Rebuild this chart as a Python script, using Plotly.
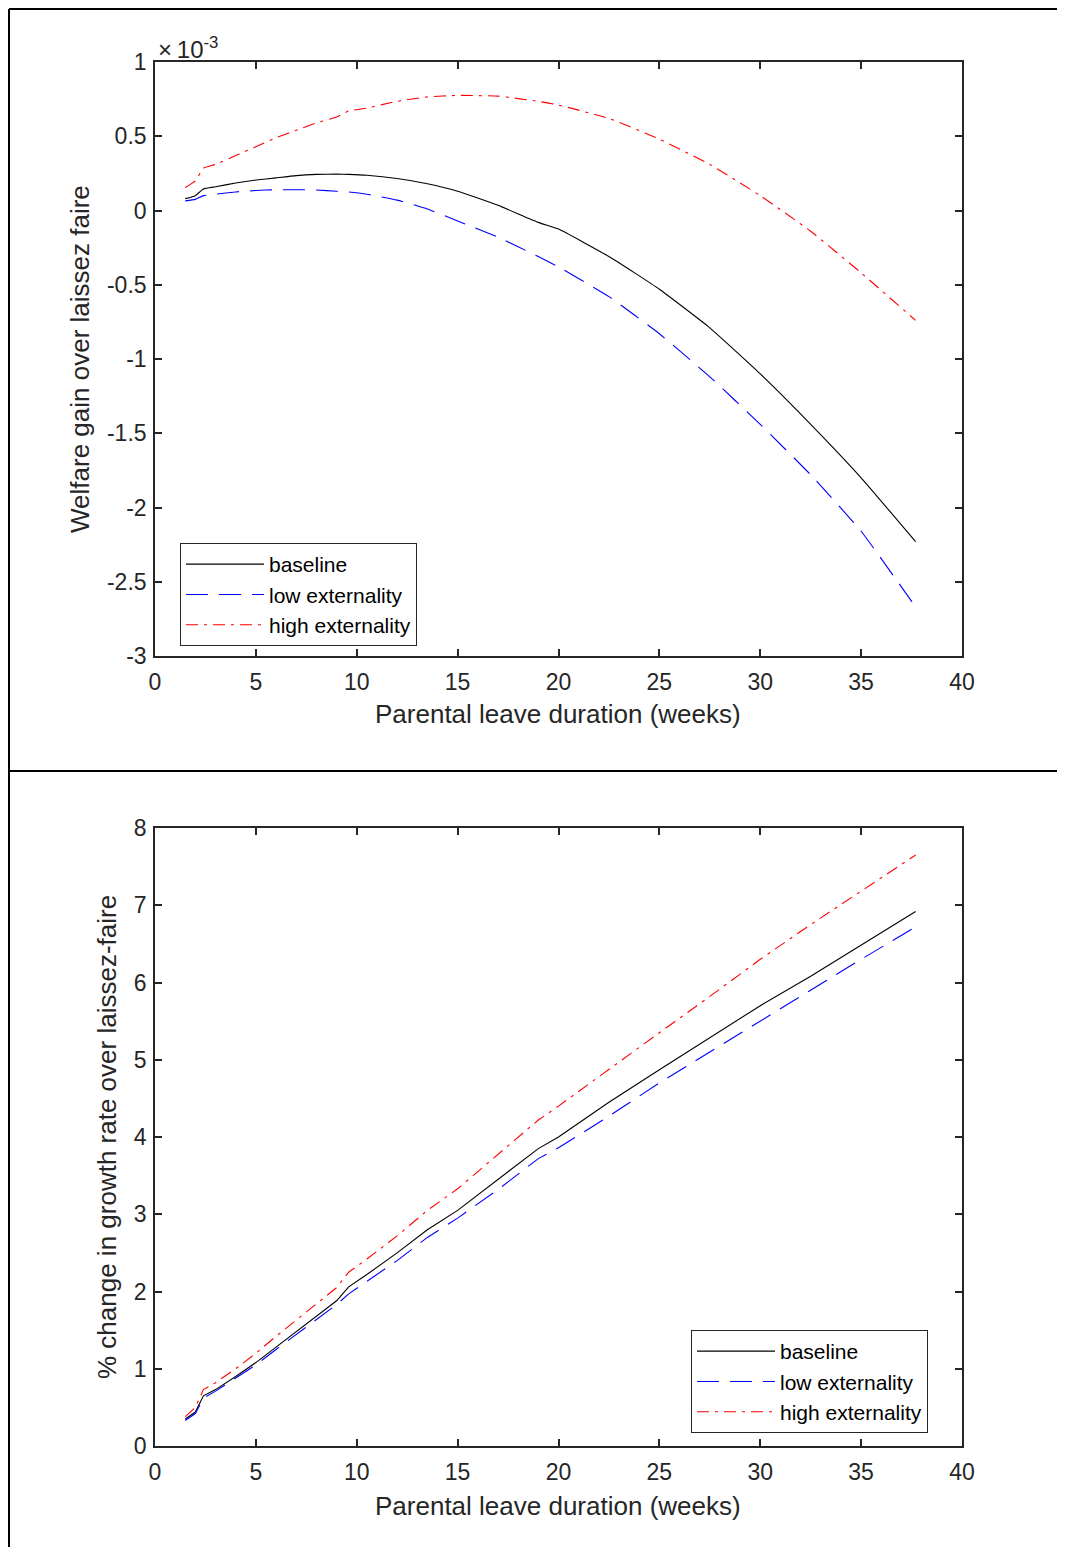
import plotly.graph_objects as go

# The page body has an 8px margin, so the figure is drawn 16px smaller and
# every reference pixel position is shifted by 8px.
REF_W, REF_H = 1065, 1555
OFF = 8
W, H = REF_W - 2 * OFF, REF_H - 2 * OFF

weeks = [1.5, 2.0, 2.4, 3, 4, 5, 6, 7, 8, 9, 9.6, 10.5, 12, 13.5, 15, 17, 19, 20,
         22.5, 25, 27.5, 30, 32.5, 35, 37.7]

# Top panel: welfare gain over laissez faire (x 1e-3)
welfare_baseline = [0.08, 0.10, 0.145, 0.16, 0.185, 0.205, 0.22, 0.235, 0.243, 0.245, 0.243,
                    0.237, 0.215, 0.18, 0.13, 0.035, -0.08, -0.125, -0.31, -0.53, -0.79,
                    -1.1, -1.44, -1.8, -2.23]
welfare_low = [0.065, 0.075, 0.10, 0.11, 0.125, 0.135, 0.14, 0.14, 0.138, 0.13, 0.125, 0.11,
               0.07, 0.01, -0.07, -0.18, -0.31, -0.38, -0.58, -0.83, -1.12, -1.44, -1.78,
               -2.16, -2.67]
welfare_high = [0.155, 0.20, 0.285, 0.31, 0.37, 0.43, 0.49, 0.54, 0.59, 0.63, 0.67, 0.69,
                0.735, 0.765, 0.775, 0.77, 0.735, 0.71, 0.62, 0.48, 0.31, 0.1, -0.14,
                -0.42, -0.74]

# Bottom panel: % change in growth rate over laissez-faire
growth_baseline = [0.35, 0.44, 0.65, 0.73, 0.9, 1.08, 1.28, 1.48, 1.67, 1.88, 2.06, 2.22,
                   2.5, 2.8, 3.05, 3.45, 3.85, 4.0, 4.45, 4.87, 5.28, 5.7, 6.08, 6.48, 6.92]
growth_low = [0.33, 0.42, 0.62, 0.71, 0.88, 1.05, 1.25, 1.44, 1.63, 1.83, 1.97, 2.13, 2.4,
              2.7, 2.95, 3.32, 3.72, 3.86, 4.27, 4.7, 5.1, 5.5, 5.9, 6.3, 6.72]
growth_high = [0.38, 0.5, 0.73, 0.82, 1.0, 1.2, 1.42, 1.63, 1.84, 2.05, 2.25, 2.42, 2.72,
               3.05, 3.33, 3.78, 4.22, 4.4, 4.88, 5.35, 5.82, 6.3, 6.75, 7.18, 7.65]

series_names = ["baseline", "low externality", "high externality"]
x_ticks = [0, 5, 10, 15, 20, 25, 30, 35, 40]
top_ticks = [1, 0.5, 0, -0.5, -1, -1.5, -2, -2.5, -3]
bottom_ticks = [0, 1, 2, 3, 4, 5, 6, 7, 8]
x_title = "Parental leave duration (weeks)"
top_y_title = "Welfare gain over laissez faire"
bottom_y_title = "% change in growth rate over laissez-faire"

styles = [
    dict(color="black", width=1.1, dash="solid"),
    dict(color="#0000ff", width=1.1, dash="22px,11px"),
    dict(color="#ff0000", width=1.1, dash="12px,6px,3px,6px"),
]

AX = "#262626"
FONT = "Liberation Sans, Arial, sans-serif"
TICK_SIZE = 23
TITLE_SIZE = 26
LEG_SIZE = 21


def fx(p):
    return (p - OFF) / W


def fy(p):
    return 1 - (p - OFF) / H


fig = go.Figure()

top_series = [welfare_baseline, welfare_low, welfare_high]
bot_series = [growth_baseline, growth_low, growth_high]
for name, ys, st in zip(series_names, top_series, styles):
    fig.add_trace(go.Scatter(x=weeks, y=ys, mode="lines", name=name, line=st,
                             line_shape="spline", line_smoothing=0.4,
                             xaxis="x", yaxis="y", legend="legend"))
for name, ys, st in zip(series_names, bot_series, styles):
    fig.add_trace(go.Scatter(x=weeks, y=ys, mode="lines", name=name, line=st,
                             xaxis="x2", yaxis="y2", legend="legend2"))

axis_common = dict(
    showline=True, linecolor=AX, linewidth=1.6, mirror="allticks",
    ticks="inside", ticklen=7, tickwidth=1.6, tickcolor=AX,
    showgrid=False, zeroline=False, automargin=False,
    tickfont=dict(family=FONT, size=TICK_SIZE, color=AX),
)

xdom = [fx(155), fx(962)]
leg_common = dict(xanchor="left", yanchor="top", bgcolor="white", bordercolor=AX,
                  borderwidth=1, font=dict(family=FONT, size=LEG_SIZE, color="black"),
                  tracegroupgap=0, itemwidth=78)
fig.update_layout(
    width=W, height=H,
    margin=dict(l=0, r=0, t=0, b=0, pad=0, autoexpand=False),
    paper_bgcolor="white", plot_bgcolor="white",
    font=dict(family=FONT, color=AX),
    xaxis=dict(domain=xdom, range=[0, 40], tickvals=x_ticks, anchor="y",
               ticklabelstandoff=5, **axis_common),
    yaxis=dict(domain=[fy(656), fy(62)], range=[-3, 1], tickvals=top_ticks,
               ticktext=[str(t) for t in top_ticks], anchor="x",
               ticklabelstandoff=2, **axis_common),
    xaxis2=dict(domain=xdom, range=[0, 40], tickvals=x_ticks, anchor="y2",
                ticklabelstandoff=5, **axis_common),
    yaxis2=dict(domain=[fy(1446), fy(828)], range=[0, 8], tickvals=bottom_ticks,
                anchor="x2", ticklabelstandoff=2, **axis_common),
    legend=dict(x=fx(180), y=fy(543), **leg_common),
    legend2=dict(x=fx(691), y=fy(1330), **leg_common),
    showlegend=True,
)

ann_font = dict(family=FONT, size=TITLE_SIZE, color=AX)
fig.add_annotation(x=fx(558), y=fy(714), xref="paper", yref="paper", showarrow=False,
                   xanchor="center", yanchor="middle", text=x_title, font=ann_font)
fig.add_annotation(x=fx(558), y=fy(1506), xref="paper", yref="paper", showarrow=False,
                   xanchor="center", yanchor="middle", text=x_title, font=ann_font)
fig.add_annotation(x=fx(80), y=fy(359), xref="paper", yref="paper", showarrow=False,
                   xanchor="center", yanchor="middle", textangle=-90, text=top_y_title,
                   font=ann_font)
fig.add_annotation(x=fx(107), y=fy(1137), xref="paper", yref="paper", showarrow=False,
                   xanchor="center", yanchor="middle", textangle=-90, text=bottom_y_title,
                   font=ann_font)
fig.add_annotation(x=fx(156), y=fy(48), xref="paper", yref="paper",
                   xanchor="left", yanchor="middle", showarrow=False,
                   text="\u00d7\u200910<sup>-3</sup>",
                   font=dict(family=FONT, size=24, color=AX))

# Outer frame and separator
frame = dict(color="black", width=2)
fig.add_shape(type="line", xref="paper", yref="paper",
              x0=fx(9), x1=fx(9), y0=fy(9), y1=0, line=frame)
fig.add_shape(type="line", xref="paper", yref="paper",
              x0=fx(9), x1=1, y0=fy(9), y1=fy(9), line=frame)
fig.add_shape(type="line", xref="paper", yref="paper",
              x0=fx(9), x1=1, y0=fy(771), y1=fy(771), line=frame)

fig.write_html("out.html")
